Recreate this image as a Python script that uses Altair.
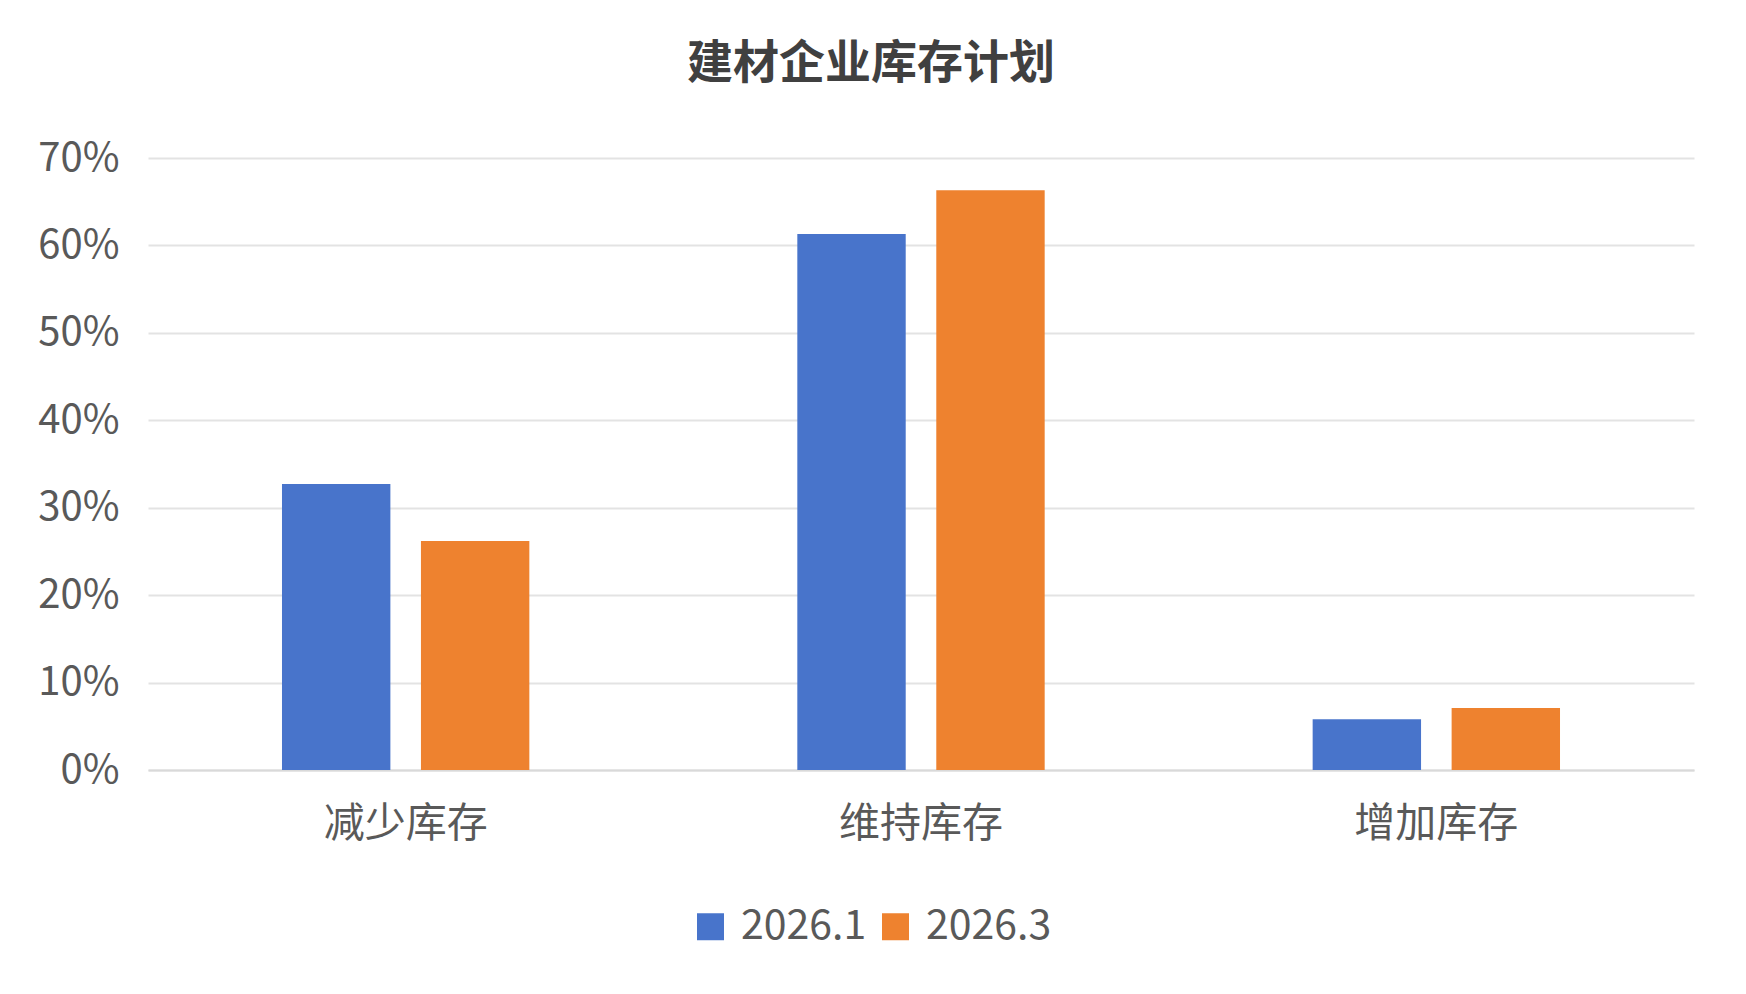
#!/usr/bin/env python3
"""Generate chart
"""
import altair as alt
import pandas as pd

OUTPUT_FILE = 'out.html'

categories = ['减少库存', '维持库存', '增加库存']
series = ['2026.1', '2026.3']
values_jan = [0.327, 0.613, 0.058]
values_mar = [0.262, 0.663, 0.071]
colors = ['#4874CB', '#EE822F']

FONT = 'Noto Sans CJK SC'
GREY = '#595959'

df = pd.DataFrame({
    'category': categories * 2,
    'series': [series[0]] * 3 + [series[1]] * 3,
    'value': values_jan + values_mar,
})

chart = alt.Chart(df).mark_bar().encode(
    alt.X(
        'category:N',
        sort=categories,
        scale=alt.Scale(paddingInner=0.52, paddingOuter=0.26),
        axis=alt.Axis(
            title=None, labelAngle=0, labelFontSize=41, labelColor=GREY,
            labelFont=FONT, labelPadding=34, ticks=False,
            domainColor='#d9d9d9', domainWidth=2, grid=False,
        ),
    ),
    alt.XOffset('series:N', sort=series,
                scale=alt.Scale(paddingInner=0.22, paddingOuter=0)),
    alt.Y(
        'value:Q',
        scale=alt.Scale(domain=[0, 0.7], nice=False),
        axis=alt.Axis(
            title=None, format='.0%', values=[i / 10 for i in range(8)],
            labelFontSize=40, labelColor=GREY, labelFont=FONT,
            labelPadding=29, ticks=False, domain=False,
            gridColor='#e3e3e3', gridWidth=2,
        ),
    ),
    alt.Color(
        'series:N', sort=series,
        scale=alt.Scale(domain=series, range=colors),
        legend=alt.Legend(
            title=None, orient='none', direction='horizontal',
            legendX=542, legendY=748, symbolType='square',
            symbolSize=729, symbolStrokeWidth=0, labelFontSize=41,
            labelColor=GREY, labelFont=FONT, symbolOffset=0,
            labelOffset=10, columnPadding=8,
        ),
    ),
).properties(
    width=1546,
    height=612,
    padding={'left': 140, 'top': 150, 'right': 44, 'bottom': 216},
    autosize=alt.AutoSizeParams(type='none'),
    title=alt.TitleParams(
        '建材企业库存计划', fontSize=46, fontWeight='bold', color='#404040',
        font=FONT, anchor='middle', dx=-50, offset=50,
    ),
).configure(
    background='white'
).configure_view(
    stroke=None
)

chart.save(OUTPUT_FILE, embed_options={'renderer': 'svg', 'actions': False})
